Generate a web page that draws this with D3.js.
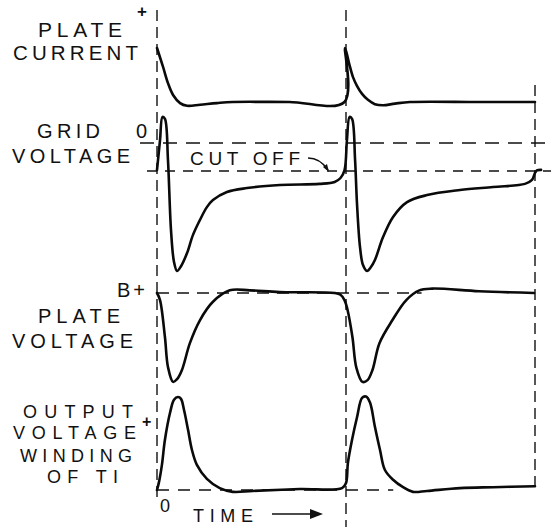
<!DOCTYPE html>
<html>
<head>
<meta charset="utf-8">
<script src="https://cdn.jsdelivr.net/npm/d3@7/dist/d3.min.js"></script>
<style>
  body { margin: 0; background: #fff; }
  text { font-family: "Liberation Sans", "DejaVu Sans", sans-serif; fill: #111; }
</style>
</head>
<body>
<div id="chart"></div>
<script>
// Time runs in arbitrary units: one oscillator period = 100.
// Each trace is [time, value], value in that panel's own units.
var plateCurrent = [
  [0, 100], [3.2, 65], [5.8, 35], [8.5, 13], [12.2, -2], [15.9, -7], [22.8, -5],
  [31.7, -2], [40, 0], [70, 0], [99.2, 0],
  [99.5, 100], [101.6, 72], [103.7, 46], [105.8, 30], [108.5, 15], [111.6, 4],
  [115.3, -4], [119.6, -6], [125.9, -3], [133.9, 0], [170, 0], [200, 0]
];

// grid voltage: 0 = zero volts, -1 = cut-off
var gridVoltage = [
  [0, -0.96], [1.6, 0.1], [2.9, 0.93], [4.2, 0.86], [5.8, -0.6], [7.4, -3.1],
  [9.0, -4.25], [10.6, -4.57], [12.7, -4.4], [15.9, -3.93], [19, -3.29],
  [22.7, -2.75], [26.4, -2.29], [29.6, -2.04], [37, -1.75], [47.6, -1.61],
  [65, -1.5], [86, -1.46], [94, -1.39], [97.1, -1.25], [99.2, -0.98],
  [100.5, 0.1], [101.9, 0.93], [103.2, 0.86], [104.8, -0.6], [105.8, -2.14],
  [107.4, -3.71], [109, -4.36], [111.1, -4.57], [113.2, -4.43], [115.3, -4.18],
  [119.6, -3.36], [124.9, -2.64], [132.3, -2.11], [142.9, -1.86], [160.3, -1.68],
  [177.8, -1.57], [194.7, -1.46], [198.4, -1.32], [200, -1.07], [201, -0.98],
  [203.2, -0.96]
];

// plate voltage: 100 = B+
var plateVoltage = [
  [0, 100], [1.6, 92], [4.2, 50], [5.8, 16], [8.5, -1], [10.6, 2], [13.2, 12.5],
  [17.4, 43], [22.7, 69], [29.6, 90], [38.5, 103], [49.1, 103], [64.9, 101],
  [93.9, 100], [97.1, 98], [99.2, 92], [100.8, 81], [103.4, 50], [105.5, 15],
  [108.7, -1], [111.4, 1], [114, 12.5], [117.7, 43], [124.5, 69], [131.9, 92],
  [138.8, 103], [145.6, 105], [170.4, 102], [199.5, 100]
];

// output winding voltage: 0 = zero, 100 = peak
var outputVoltage = [
  [0, 0], [1.1, 9], [2.6, 27], [4.2, 54], [6.9, 83], [9, 97], [11.1, 100],
  [12.7, 98], [14.3, 86], [16.4, 65], [18.5, 43], [21.1, 27], [26.4, 12],
  [33.2, 2], [40.1, -2], [50.7, -1], [75.5, 1], [97.9, 2],
  [100, 7.5], [101, 29], [103.2, 54], [105.8, 78], [108.5, 99], [110.6, 100.5],
  [112.7, 94], [115.3, 68], [118, 43], [120.6, 21.5], [124.9, 11], [130.2, 3],
  [135.4, -2], [142.9, -1], [160.3, 2], [177.8, 3], [200, 4]
];

var periodMarks = [0, 100, 200];

var plateCurrentLabel = ["PLATE", "CURRENT"];
var gridLabel = ["GRID", "VOLTAGE"];
var plateVoltageLabel = ["PLATE", "VOLTAGE"];
var outputLabel = ["OUTPUT", "VOLTAGE", "WINDING", "OF TI"];

var svgWidth = 551;
var svgHeight = 527;

var svg = d3.select("#chart")
  .append("svg")
  .attr("width", svgWidth)
  .attr("height", svgHeight);

// shared time axis
var xScale = d3.scaleLinear().domain([0, 200]).range([157, 535]);

// one vertical scale per trace
var yCurrent = d3.scaleLinear().domain([0, 100]).range([102, 48]);
var yGrid = d3.scaleLinear().domain([-1, 0]).range([171, 143]);
var yPlate = d3.scaleLinear().domain([0, 100]).range([381, 293]);
var yOutput = d3.scaleLinear().domain([0, 100]).range([490, 397]);

// dashed guide lines
var dash = svg.append("g")
  .attr("stroke", "#111")
  .attr("stroke-width", 1.4)
  .attr("fill", "none");

var vertExtent = [[10, 497], [10, 527], [85, 486]];
periodMarks.forEach(function(t, i) {
  dash.append("line")
    .attr("x1", xScale(t)).attr("x2", xScale(t))
    .attr("y1", vertExtent[i][0]).attr("y2", vertExtent[i][1])
    .attr("stroke-dasharray", "11,6");
});

dash.append("line")
  .attr("x1", 140).attr("x2", svgWidth)
  .attr("y1", yGrid(0)).attr("y2", yGrid(0))
  .attr("stroke-dasharray", "14,9");
dash.append("line")
  .attr("x1", 147).attr("x2", svgWidth)
  .attr("y1", yGrid(-1)).attr("y2", yGrid(-1))
  .attr("stroke-dasharray", "10,8");
dash.append("line")
  .attr("x1", xScale(0)).attr("x2", xScale(140))
  .attr("y1", yPlate(100)).attr("y2", yPlate(100))
  .attr("stroke-dasharray", "12,8");
dash.append("line")
  .attr("x1", xScale(0)).attr("x2", xScale(125))
  .attr("y1", yOutput(0)).attr("y2", yOutput(0))
  .attr("stroke-dasharray", "12,9");

// the traces
function drawTrace(data, yScale) {
  var line = d3.line()
    .x(d => xScale(d[0]))
    .y(d => yScale(d[1]))
    .curve(d3.curveCatmullRom.alpha(0.5));
  svg.append("path")
    .datum(data)
    .attr("d", line)
    .attr("fill", "none")
    .attr("stroke", "#0a0a0a")
    .attr("stroke-width", 2.6)
    .attr("stroke-linejoin", "round")
    .attr("stroke-linecap", "round");
}
drawTrace(plateCurrent, yCurrent);
drawTrace(gridVoltage, yGrid);
drawTrace(plateVoltage, yPlate);
drawTrace(outputVoltage, yOutput);

// lettering
function label(txt, x, y, w, size) {
  var t = svg.append("text")
    .attr("x", x)
    .attr("y", y)
    .style("font-size", (size || 20) + "px")
    .text(txt);
  if (w) t.attr("textLength", w).attr("lengthAdjust", "spacing");
  return t;
}

label(plateCurrentLabel[0], 38, 37, 84, 21);
label(plateCurrentLabel[1], 13, 60, 125, 20.5);
label("+", 137, 17, null, 17).style("font-weight", 700);

label(gridLabel[0], 37, 138, 63);
label(gridLabel[1], 12, 163, 118);
label("0", 136, 138, 14);
label("CUT OFF", 190, 165, 110, 19);

label("B+", 117, 297, 28);
label(plateVoltageLabel[0], 38, 323, 82);
label(plateVoltageLabel[1], 12, 348, 121);

label(outputLabel[0], 23, 417.5, 110, 18);
label(outputLabel[1], 13, 438.5, 123, 18);
label(outputLabel[2], 20, 461.5, 112, 18);
label(outputLabel[3], 47, 483, 71, 18);
label("+", 142, 427, null, 16).style("font-weight", 700);

label("0", 160, 512, 13, 18);
label("TIME", 193, 521.5, 60, 18);

// small arrows
svg.append("path")
  .attr("d", "M308,158 Q320,158 328,170")
  .attr("fill", "none")
  .attr("stroke", "#111")
  .attr("stroke-width", 1.6);
svg.append("path")
  .attr("d", "M323,167 L329,172 L327,164 Z")
  .attr("fill", "#111");

svg.append("line")
  .attr("x1", 272).attr("x2", 312)
  .attr("y1", 514).attr("y2", 514)
  .attr("stroke", "#111")
  .attr("stroke-width", 1.6);
svg.append("path")
  .attr("d", "M310,509 L323,514 L310,519 Z")
  .attr("fill", "#111");
</script>
</body>
</html>
